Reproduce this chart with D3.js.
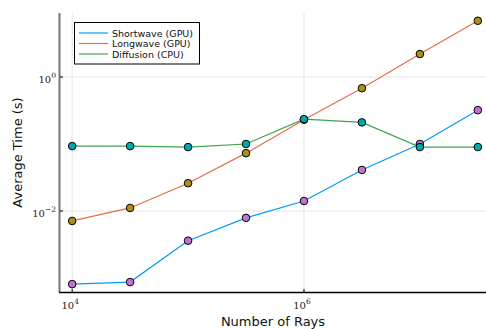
<!DOCTYPE html>
<html>
<head>
<meta charset="utf-8">
<script src="https://cdn.jsdelivr.net/npm/d3@7"></script>
<style>
  body { margin: 0; background: #fff; }
  svg { display: block; }
  text { font-family: "DejaVu Sans", sans-serif; }
</style>
</head>
<body>
<svg id="chart" width="486" height="329"></svg>
<script>
// 数据
const rays = [1e4, 10 ** 4.5, 1e5, 10 ** 5.5, 1e6, 10 ** 6.5, 1e7, 10 ** 7.5];
const shortwave = [0.00081, 0.00087, 0.0036, 0.0079, 0.0141, 0.041, 0.1, 0.32];
const longwave = [0.0071, 0.0111, 0.026, 0.073, 0.23, 0.68, 2.2, 6.9];
const diffusion = [0.093, 0.093, 0.090, 0.1, 0.235, 0.21, 0.090, 0.090];
const seriesNames = ['Shortwave (GPU)', 'Longwave (GPU)', 'Diffusion (CPU)'];
const xTicks = [1e4, 1e6];
const xTickExp = ['4', '6'];
const yTicks = [1e-2, 1];
const yTickExp = ['−2', '0'];

const lineColors = ['#009AFA', '#E36F47', '#3EA44E'];
const markerColors = ['#C271D2', '#AC8E18', '#00A9AD'];

const margin = {left: 60, top: 13, bottom: 37};
const width = 486, height = 329;
const svg = d3.select('#chart');

// 比例尺 (3% 边距，同 Plots.jl)
const x = d3.scaleLog().domain([10 ** 3.895, 10 ** 7.605]).range([margin.left, 490]);
const y = d3.scaleLog().domain([10 ** -3.209, 10 ** 0.955]).range([height - margin.bottom, margin.top]);
const bottom = height - margin.bottom;

// 网格线
svg.append('g').selectAll('line').data(xTicks).join('line')
    .attr('x1', d => x(d)).attr('x2', d => x(d))
    .attr('y1', margin.top).attr('y2', bottom)
    .attr('stroke', '#e5e5e5').attr('stroke-width', 1);
svg.append('g').selectAll('line').data(yTicks).join('line')
    .attr('x1', margin.left).attr('x2', width)
    .attr('y1', d => y(d)).attr('y2', d => y(d))
    .attr('stroke', '#e5e5e5').attr('stroke-width', 1);

// 轴线
svg.append('line')
    .attr('x1', margin.left - 0.5).attr('x2', margin.left - 0.5)
    .attr('y1', margin.top).attr('y2', bottom)
    .attr('stroke', '#777').attr('stroke-width', 2);
svg.append('line')
    .attr('x1', margin.left - 1).attr('x2', width)
    .attr('y1', bottom + 0.5).attr('y2', bottom + 0.5)
    .attr('stroke', '#000').attr('stroke-width', 1.3);

// 刻度
svg.append('g').selectAll('line').data(xTicks).join('line')
    .attr('x1', d => x(d)).attr('x2', d => x(d))
    .attr('y1', bottom).attr('y2', bottom - 3)
    .attr('stroke', '#000');
svg.append('g').selectAll('line').data(yTicks).join('line')
    .attr('x1', margin.left).attr('x2', margin.left + 3)
    .attr('y1', d => y(d)).attr('y2', d => y(d))
    .attr('stroke', '#000');

const tickFont = '"DejaVu Serif", serif';
const xt = svg.append('g').selectAll('text').data(xTicks).join('text')
    .attr('x', d => x(d) - 2).attr('y', bottom + 17)
    .attr('text-anchor', 'middle')
    .style('font-family', tickFont).style('font-size', '10px').attr('fill', '#222');
xt.append('tspan').text('10');
xt.append('tspan').attr('dy', -5).style('font-size', '7.5px').text((d, i) => xTickExp[i]);

const yt = svg.append('g').selectAll('text').data(yTicks).join('text')
    .attr('x', margin.left - 10).attr('y', d => y(d) + 6)
    .attr('text-anchor', 'end')
    .style('font-family', tickFont).style('font-size', '10px').attr('fill', '#222');
yt.append('tspan').text('10');
yt.append('tspan').attr('dy', -5).style('font-size', '7.5px').text((d, i) => yTickExp[i]);
// 上标在右侧，向右挪一点
yt.attr('x', margin.left - 4);

// 轴标题
svg.append('text')
    .attr('x', (margin.left + width) / 2).attr('y', 326)
    .attr('text-anchor', 'middle').style('font-size', '13px').attr('fill', '#111')
    .text('Number of Rays');
svg.append('text')
    .attr('transform', `translate(22,${(margin.top + bottom) / 2}) rotate(-90)`)
    .attr('text-anchor', 'middle').style('font-size', '13px').attr('fill', '#111')
    .text('Average Time (s)');

// 折线
const allSeries = [shortwave, longwave, diffusion];
const line = d3.line().x((d, i) => x(rays[i])).y(d => y(d));
allSeries.forEach((s, k) => {
    svg.append('path').datum(s)
        .attr('d', line)
        .attr('fill', 'none')
        .attr('stroke', lineColors[k])
        .attr('stroke-width', 1.2);
});
// 散点
allSeries.forEach((s, k) => {
    svg.append('g').selectAll('circle').data(s).join('circle')
        .attr('cx', (d, i) => x(rays[i]))
        .attr('cy', d => y(d))
        .attr('r', 3.8)
        .attr('fill', markerColors[k])
        .attr('stroke', '#000')
        .attr('stroke-width', 1);
});

// 图例
const lg = svg.append('g');
lg.append('rect')
    .attr('x', 74.5).attr('y', 22.5).attr('width', 125).attr('height', 41.5)
    .attr('fill', '#fff').attr('stroke', '#000').attr('stroke-width', 1);
seriesNames.forEach((n, k) => {
    const yy = 33 + k * 10.5;
    lg.append('line')
        .attr('x1', 79).attr('x2', 108).attr('y1', yy).attr('y2', yy)
        .attr('stroke', lineColors[k]).attr('stroke-width', 1.2);
    lg.append('text')
        .attr('x', 112).attr('y', yy + 3.5)
        .style('font-size', '9.5px').attr('fill', '#111')
        .text(n);
});
</script>
</body>
</html>
